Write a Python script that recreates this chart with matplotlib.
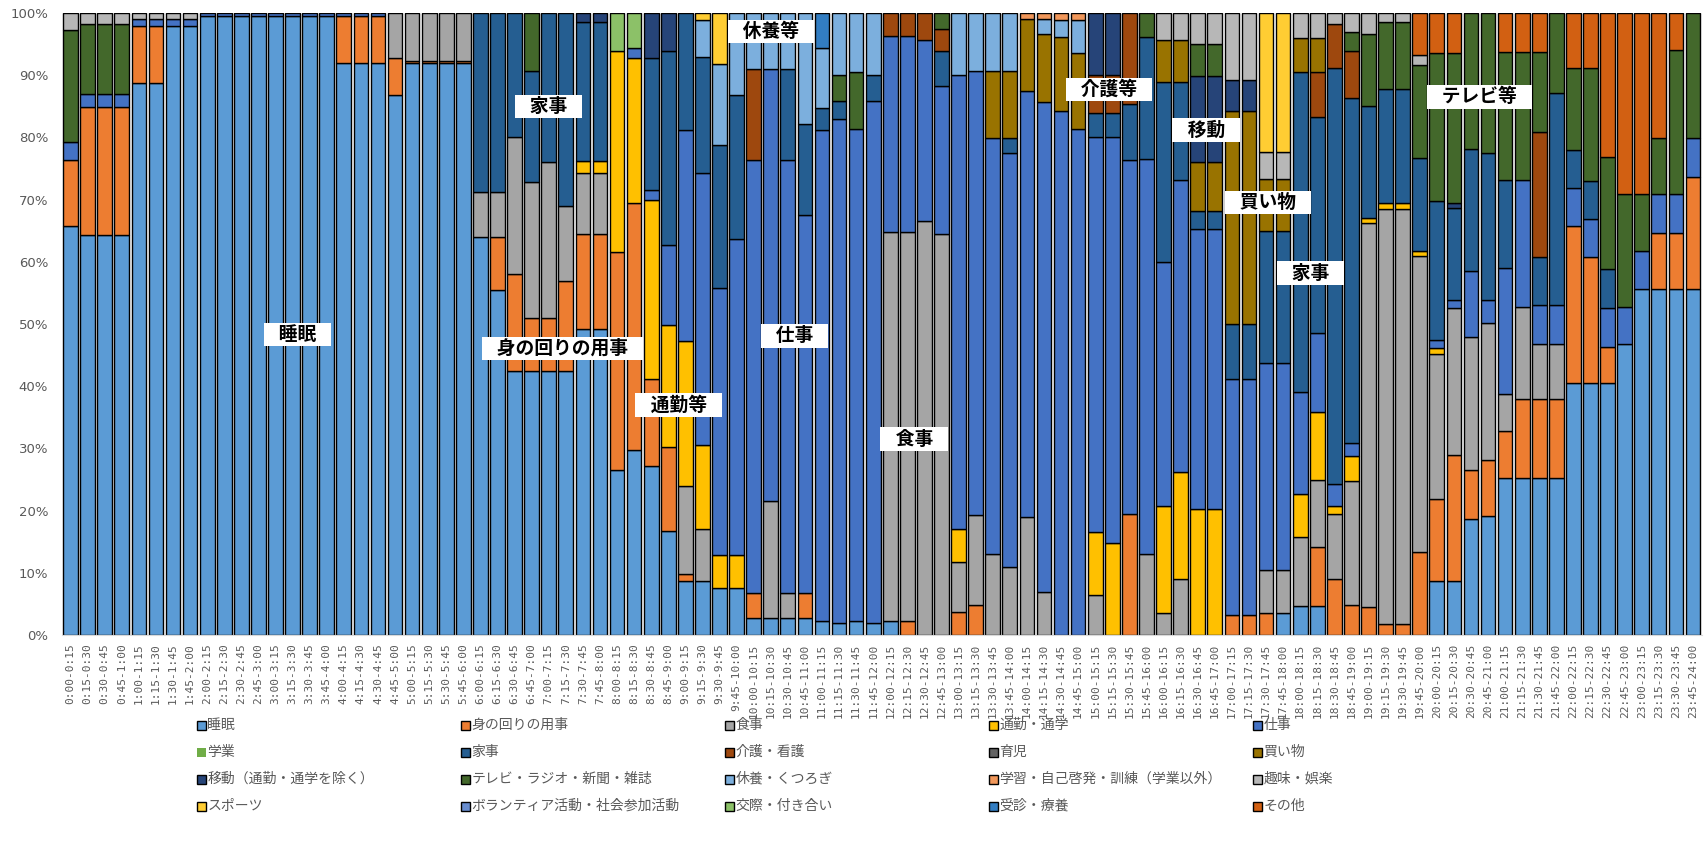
import matplotlib
matplotlib.use("Agg")
import matplotlib.pyplot as plt
from matplotlib.patches import Rectangle
import numpy as np

W, H = 1704, 843

categories = ["睡眠", "身の回りの用事", "食事", "通勤・通学", "仕事",
              "学業", "家事", "介護・看護", "育児", "買い物",
              "移動（通勤・通学を除く）", "テレビ・ラジオ・新聞・雑誌", "休養・くつろぎ", "学習・自己啓発・訓練（学業以外）", "趣味・娯楽",
              "スポーツ", "ボランティア活動・社会参加活動", "交際・付き合い", "受診・療養", "その他"]

colors = ["#5B9BD5", "#ED7D31", "#A5A5A5", "#FFC000", "#4472C4",
          "#70AD47", "#255E91", "#9E480E", "#636363", "#997300",
          "#264478", "#43682B", "#7CAFDD", "#F1975A", "#B7B7B7",
          "#FFCD33", "#698ED0", "#8CC168", "#327DC2", "#D26012"]

# time slot labels (15-minute intervals)
time_labels = []
for h in range(24):
    for q in range(4):
        m0 = q * 15
        h1, m1 = (h, m0 + 15) if q < 3 else (h + 1, 0)
        time_labels.append(f"{h}:{m0:02d}-{h1}:{m1:02d}")

sleep = [65.8, 64.3, 64.3, 64.3, 88.7, 88.7, 97.9, 97.9, 99.5, 99.5, 99.5, 99.5,
         99.5, 99.5, 99.5, 99.5, 91.9, 91.9, 91.9, 86.8, 91.9, 91.9, 91.9, 91.9,
         64.0, 55.5, 42.5, 42.5, 42.5, 42.5, 49.2, 49.2, 26.5, 29.8, 27.1, 16.8,
         8.7, 8.7, 7.5, 7.5, 2.8, 2.8, 2.8, 2.8, 2.3, 2.0, 2.3, 2.0,
         2.3, 0, 0, 0, 0, 0, 0, 0, 0, 0, 0, 0,
         0, 0, 0, 0, 0, 0, 0, 0, 0, 0, 0, 3.5,
         4.7, 4.7, 0, 0, 0, 0, 0, 0, 8.7, 8.7, 18.7, 19.1,
         25.2, 25.2, 25.2, 25.2, 40.5, 40.5, 40.5, 46.8, 55.7, 55.7, 55.7, 55.7]

personal_care = [10.5, 20.6, 20.6, 20.6, 9.2, 9.2, 0, 0, 0, 0, 0, 0,
                 0, 0, 0, 0, 7.6, 7.6, 7.6, 6.0, 0.4, 0.4, 0.4, 0.4,
                 0, 8.5, 15.6, 8.5, 8.5, 14.4, 15.3, 15.3, 35.0, 39.7, 14.1, 13.5,
                 1.1, 0, 0, 0, 4.0, 0, 0, 4.0, 0, 0, 0, 0,
                 0, 2.3, 0, 0, 3.7, 4.8, 0, 0, 0, 0, 0, 0,
                 0, 0, 19.5, 0, 0, 0, 0, 0, 3.2, 3.2, 3.5, 0,
                 0, 9.4, 9.0, 4.8, 4.5, 1.7, 1.7, 13.3, 13.1, 20.3, 7.8, 9.0,
                 7.6, 12.7, 12.7, 12.7, 25.2, 20.2, 5.8, 0, 0, 9.0, 9.0, 18.0]

meals = [0, 0, 0, 0, 0, 0, 0, 0, 0, 0, 0, 0,
         0, 0, 0, 0, 0, 0, 0, 7.2, 7.7, 7.7, 7.7, 7.7,
         7.2, 7.2, 21.9, 21.8, 25.1, 12.0, 9.8, 9.8, 0, 0, 0, 0,
         14.1, 8.3, 0, 0, 0, 18.7, 4.0, 0, 0, 0, 0, 0,
         62.5, 62.5, 66.5, 64.5, 8.1, 14.5, 13.1, 10.9, 18.9, 6.9, 0, 0,
         6.5, 0, 0, 13.1, 3.5, 9.0, 0, 0, 0, 0, 7.0, 7.0,
         11.0, 10.9, 10.5, 19.9, 61.7, 66.8, 66.8, 47.7, 23.4, 23.5, 21.4, 22.1,
         5.9, 14.8, 8.9, 8.9, 0, 0, 0, 0, 0, 0, 0, 0]

commute = [0, 0, 0, 0, 0, 0, 0, 0, 0, 0, 0, 0,
           0, 0, 0, 0, 0, 0, 0, 0, 0, 0, 0, 0,
           0, 0, 0, 0, 0, 0, 1.9, 1.9, 32.4, 23.3, 28.8, 19.6,
           23.4, 13.5, 5.3, 5.3, 0, 0, 0, 0, 0, 0, 0, 0,
           0, 0, 0, 0, 5.2, 0, 0, 0, 0, 0, 0, 0,
           10.0, 14.8, 0, 0, 17.2, 17.2, 20.3, 20.3, 0, 0, 0, 0,
           7.0, 10.8, 1.3, 4.0, 0.9, 1.0, 1.0, 0.8, 0.9, 0, 0, 0,
           0, 0, 0, 0, 0, 0, 0, 0, 0, 0, 0, 0]

work = [3.0, 2.0, 2.0, 2.0, 1.1, 1.1, 1.1, 1.1, 0.5, 0.5, 0.5, 0.5,
        0.5, 0.5, 0.5, 0.5, 0.5, 0.5, 0.5, 0, 0, 0, 0, 0,
        0, 0, 0, 0, 0, 0, 0, 0, 0, 1.5, 1.5, 12.8,
        33.9, 43.8, 43.0, 50.9, 69.5, 69.5, 69.5, 60.7, 78.9, 81.0, 79.0, 83.8,
        31.5, 31.5, 29.2, 23.8, 73.1, 71.4, 66.8, 66.6, 68.6, 78.8, 84.3, 81.3,
        63.5, 65.2, 56.8, 63.4, 39.3, 47.0, 45.0, 45.0, 38.0, 38.0, 33.2, 33.2,
        16.3, 12.7, 3.5, 2.2, 0, 0, 0, 0, 1.4, 1.4, 10.6, 3.6,
        20.3, 20.5, 6.2, 6.2, 6.2, 6.2, 6.2, 5.9, 6.1, 6.2, 6.2, 6.2]

school = [0] * 96

housework = [0, 0, 0, 0, 0, 0, 0, 0, 0, 0, 0, 0,
             0, 0, 0, 0, 0, 0, 0, 0, 0, 0, 0, 0,
             28.8, 28.8, 20.0, 17.9, 23.9, 31.1, 22.3, 22.3, 0, 0, 21.3, 31.2,
             18.8, 18.7, 23.0, 23.1, 0, 0, 14.7, 14.7, 3.6, 2.9, 0, 4.3,
             0, 0, 0, 5.6, 0, 0, 0, 2.4, 0, 0, 0, 0,
             3.9, 3.9, 9.0, 19.7, 28.9, 15.7, 2.9, 2.9, 8.8, 8.8, 21.2, 21.2,
             51.5, 34.7, 66.8, 55.4, 17.9, 18.3, 18.3, 14.9, 22.2, 14.8, 19.7, 23.7,
             14.2, 0, 7.7, 34.2, 6.1, 6.1, 6.3, 0, 0, 0, 0, 0]

caregiving = [0, 0, 0, 0, 0, 0, 0, 0, 0, 0, 0, 0,
              0, 0, 0, 0, 0, 0, 0, 0, 0, 0, 0, 0,
              0, 0, 0, 0, 0, 0, 0, 0, 0, 0, 0, 0,
              0, 0, 0, 0, 14.7, 0, 0, 0, 0, 0, 0, 0,
              3.7, 3.7, 4.3, 3.6, 0, 0, 0, 0, 0, 0, 0, 0,
              6.2, 6.1, 14.7, 0, 0, 0, 0, 0, 0, 0, 0, 0,
              0, 7.3, 7.1, 7.6, 0, 0, 0, 0, 0, 0, 0, 0,
              0, 0, 20.2, 0, 0, 0, 0, 0, 0, 0, 0, 0]

childcare = [0] * 96

shopping = [0, 0, 0, 0, 0, 0, 0, 0, 0, 0, 0, 0,
            0, 0, 0, 0, 0, 0, 0, 0, 0, 0, 0, 0,
            0, 0, 0, 0, 0, 0, 0, 0, 0, 0, 0, 0,
            0, 0, 0, 0, 0, 0, 0, 0, 0, 0, 0, 0,
            0, 0, 0, 0, 0, 0, 10.8, 10.8, 11.5, 11.0, 11.8, 12.2,
            0, 0, 0, 0, 6.8, 6.8, 7.9, 7.9, 34.3, 34.3, 8.4, 8.4,
            5.5, 5.5, 0, 0, 0, 0, 0, 0, 0, 0, 0, 0,
            0, 0, 0, 0, 0, 0, 0, 0, 0, 0, 0, 0]

travel = [0, 0, 0, 0, 0, 0, 0, 0, 0, 0, 0, 0,
          0, 0, 0, 0, 0, 0, 0, 0, 0, 0, 0, 0,
          0, 0, 0, 0, 0, 0, 1.5, 1.5, 0, 0, 7.2, 6.1,
          0, 0, 0, 0, 0, 0, 0, 0, 0, 0, 0, 0,
          0, 0, 0, 0, 0, 0, 0, 0, 0, 0, 0, 0,
          9.9, 10.0, 0, 0, 0, 0, 13.7, 13.7, 4.9, 4.9, 0, 0,
          0, 0, 0, 0, 0, 0, 0, 0, 0, 0.8, 0, 0,
          0, 0, 0, 0, 0, 0, 0, 0, 0, 0, 0, 0]

tv = [18.0, 11.3, 11.3, 11.3, 0, 0, 0, 0, 0, 0, 0, 0,
      0, 0, 0, 0, 0, 0, 0, 0, 0, 0, 0, 0,
      0, 0, 0, 9.3, 0, 0, 0, 0, 0, 0, 0, 0,
      0, 0, 0, 0, 0, 0, 0, 0, 0, 4.2, 9.2, 0,
      0, 0, 0, 2.5, 0, 0, 0, 0, 0, 0, 0, 0,
      0, 0, 0, 3.8, 0, 0, 5.2, 5.2, 0, 0, 0, 0,
      0, 0, 0, 3.0, 11.7, 10.7, 10.7, 15.0, 23.8, 24.0, 21.8, 22.5,
      20.6, 20.6, 12.9, 12.8, 13.1, 18.1, 18.0, 18.2, 9.1, 9.0, 23.2, 20.1]

rest = [0, 0, 0, 0, 0, 0, 0, 0, 0, 0, 0, 0,
        0, 0, 0, 0, 0, 0, 0, 0, 0, 0, 0, 0,
        0, 0, 0, 0, 0, 0, 0, 0, 0, 0, 0, 0,
        0, 5.8, 13.0, 13.2, 9.0, 9.0, 9.0, 17.8, 9.5, 9.9, 9.5, 9.9,
        0, 0, 0, 0, 9.9, 9.3, 9.3, 9.3, 0, 2.3, 2.7, 5.3,
        0, 0, 0, 0, 0, 0, 0, 0, 0, 0, 0, 0,
        0, 0, 0, 0, 0, 0, 0, 0, 0, 0, 0, 0,
        0, 0, 0, 0, 0, 0, 0, 0, 0, 0, 0, 0]

study = [0, 0, 0, 0, 0, 0, 0, 0, 0, 0, 0, 0,
         0, 0, 0, 0, 0, 0, 0, 0, 0, 0, 0, 0,
         0, 0, 0, 0, 0, 0, 0, 0, 0, 0, 0, 0,
         0, 0, 0, 0, 0, 0, 0, 0, 0, 0, 0, 0,
         0, 0, 0, 0, 0, 0, 0, 0, 1.0, 1.0, 1.2, 1.2,
         0, 0, 0, 0, 0, 0, 0, 0, 0, 0, 0, 0,
         0, 0, 0, 0, 0, 0, 0, 0, 0, 0, 0, 0,
         0, 0, 0, 0, 0, 0, 0, 0, 0, 0, 0, 0]

hobby = [2.7, 1.8, 1.8, 1.8, 1.0, 1.0, 1.0, 1.0, 0, 0, 0, 0,
         0, 0, 0, 0, 0, 0, 0, 0, 0, 0, 0, 0,
         0, 0, 0, 0, 0, 0, 0, 0, 0, 0, 0, 0,
         0, 0, 0, 0, 0, 0, 0, 0, 0, 0, 0, 0,
         0, 0, 0, 0, 0, 0, 0, 0, 0, 0, 0, 0,
         0, 0, 0, 0, 4.3, 4.3, 5.0, 5.0, 10.8, 10.8, 4.4, 4.4,
         4.0, 4.0, 1.8, 3.1, 3.3, 1.5, 1.5, 1.6, 0, 0, 0, 0,
         0, 0, 0, 0, 0, 0, 0, 0, 0, 0, 0, 0]

sports = [0, 0, 0, 0, 0, 0, 0, 0, 0, 0, 0, 0,
          0, 0, 0, 0, 0, 0, 0, 0, 0, 0, 0, 0,
          0, 0, 0, 0, 0, 0, 0, 0, 0, 0, 0, 0,
          0, 1.2, 8.2, 0, 0, 0, 0, 0, 0, 0, 0, 0,
          0, 0, 0, 0, 0, 0, 0, 0, 0, 0, 0, 0,
          0, 0, 0, 0, 0, 0, 0, 0, 0, 0, 22.3, 22.3,
          0, 0, 0, 0, 0, 0, 0, 0, 0, 0, 0, 0,
          0, 0, 0, 0, 0, 0, 0, 0, 0, 0, 0, 0]

volunteer = [0] * 96

social = [0, 0, 0, 0, 0, 0, 0, 0, 0, 0, 0, 0,
          0, 0, 0, 0, 0, 0, 0, 0, 0, 0, 0, 0,
          0, 0, 0, 0, 0, 0, 0, 0, 6.1, 5.7, 0, 0,
          0, 0, 0, 0, 0, 0, 0, 0, 0, 0, 0, 0,
          0, 0, 0, 0, 0, 0, 0, 0, 0, 0, 0, 0,
          0, 0, 0, 0, 0, 0, 0, 0, 0, 0, 0, 0,
          0, 0, 0, 0, 0, 0, 0, 0, 0, 0, 0, 0,
          0, 0, 0, 0, 0, 0, 0, 0, 0, 0, 0, 0]

medical = [0, 0, 0, 0, 0, 0, 0, 0, 0, 0, 0, 0,
           0, 0, 0, 0, 0, 0, 0, 0, 0, 0, 0, 0,
           0, 0, 0, 0, 0, 0, 0, 0, 0, 0, 0, 0,
           0, 0, 0, 0, 0, 0, 0, 0, 5.7, 0, 0, 0,
           0, 0, 0, 0, 0, 0, 0, 0, 0, 0, 0, 0,
           0, 0, 0, 0, 0, 0, 0, 0, 0, 0, 0, 0,
           0, 0, 0, 0, 0, 0, 0, 0, 0, 0, 0, 0,
           0, 0, 0, 0, 0, 0, 0, 0, 0, 0, 0, 0]

other = [0, 0, 0, 0, 0, 0, 0, 0, 0, 0, 0, 0,
         0, 0, 0, 0, 0, 0, 0, 0, 0, 0, 0, 0,
         0, 0, 0, 0, 0, 0, 0, 0, 0, 0, 0, 0,
         0, 0, 0, 0, 0, 0, 0, 0, 0, 0, 0, 0,
         0, 0, 0, 0, 0, 0, 0, 0, 0, 0, 0, 0,
         0, 0, 0, 0, 0, 0, 0, 0, 0, 0, 0, 0,
         0, 0, 0, 0, 0, 0, 0, 6.7, 6.5, 6.5, 0, 0,
         6.2, 6.2, 6.2, 0, 8.9, 8.9, 23.2, 29.1, 29.1, 20.1, 5.9, 0]

series = [sleep, personal_care, meals, commute, work, school, housework,
          caregiving, childcare, shopping, travel, tv, rest, study, hobby,
          sports, volunteer, social, medical, other]

# annotation labels: (text, slot index, percent)
annotations = [("睡眠", 13.3, 48.3), ("家事", 28.0, 85.0), ("身の回りの用事", 28.8, 46.1),
               ("通勤等", 35.6, 37.0), ("休養等", 41.0, 97.0), ("仕事", 42.4, 48.1),
               ("食事", 49.4, 31.5), ("介護等", 60.8, 87.7), ("移動", 66.5, 81.2),
               ("買い物", 70.1, 69.5), ("家事", 72.6, 58.2), ("テレビ等", 82.5, 86.5)]

data = np.array(series, dtype=float)
data = data / data.sum(axis=0) * 100.0
n = data.shape[1]
x = np.arange(n)

fig = plt.figure(figsize=(W / 100, H / 100), dpi=100)
ax = fig.add_axes([62 / W, 1 - 635 / H, (1701.5 - 62) / W, (635 - 13) / H])

bottom = np.zeros(n)
for vals, c in zip(data, colors):
    m = vals > 0
    ax.bar(x[m], vals[m], bottom=bottom[m], width=0.86, color=c,
           edgecolor="black", linewidth=1.0, zorder=2)
    bottom += vals

ax.set_xlim(-0.5, n - 0.5)
ax.set_ylim(0, 100)
ax.set_yticks(np.arange(0, 101, 10))
ax.set_yticklabels([f"{v}%" for v in range(0, 101, 10)], fontsize=9.5, color="#595959")
ax.set_xticks(x)
ax.set_xticklabels(time_labels, rotation=90, fontsize=8.0, color="#595959",
                   family="DejaVu Sans Mono")
ax.tick_params(axis="both", length=0)
ax.tick_params(axis="y", pad=10)
ax.tick_params(axis="x", pad=6)
for s in ["top", "right", "left"]:
    ax.spines[s].set_visible(False)
ax.spines["bottom"].set_color("#D9D9D9")

for txt, xi, yv in annotations:
    ax.text(xi, yv, "   " + txt + "   ", ha="center", va="center", fontsize=13.5,
            fontweight="bold", family=["Noto Sans CJK JP", "DejaVu Sans"], color="black",
            bbox=dict(boxstyle="square,pad=0.12", facecolor="white", edgecolor="none"),
            zorder=5)

# legend (row-major, 5 columns)
col_x = [201, 465, 729, 993, 1257]
row_y = [725, 752, 779, 806]
msz = 9
for k, (name, c) in enumerate(zip(categories, colors)):
    r, cidx = divmod(k, 5)
    cx, cy = col_x[cidx], row_y[r]
    fig.patches.append(Rectangle(((cx - msz / 2) / W, 1 - (cy + msz / 2) / H), msz / W, msz / H,
                                 transform=fig.transFigure, facecolor=c,
                                 edgecolor="none" if name == "学業" else "black",
                                 linewidth=1.0))
    fig.text((cx + msz / 2 + 2) / W, 1 - cy / H, name, ha="left", va="center",
             fontsize=10, color="#595959", family=["Noto Sans CJK JP", "DejaVu Sans"])

fig.savefig("out.png", dpi=100, facecolor="white")
